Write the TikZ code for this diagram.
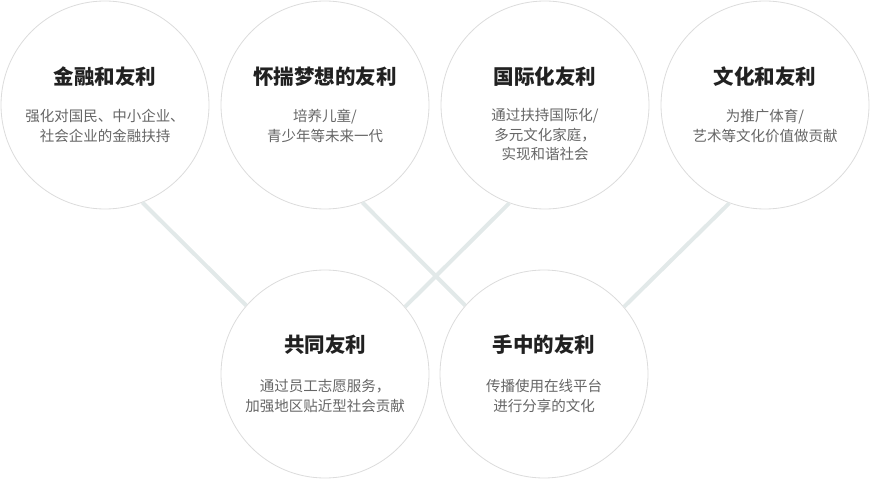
\documentclass[tikz,border=0pt]{standalone}
\usepackage{fontspec}
\setmainfont{Noto Sans CJK SC}
\definecolor{linkgray}{RGB}{226,233,233}
\definecolor{ringgray}{RGB}{220,220,220}

\begin{document}
\begin{tikzpicture}[x=1pt,y=1pt]
\tikzset{bubble/.style = {shape=circle,draw=ringgray,line width=0.8pt,fill=white,minimum size=208pt,inner sep=0pt}}
\tikzset{headline/.style = {font=\fontsize{20.5}{24}\selectfont\bfseries,text=black!87,inner sep=0pt}}
\tikzset{blurb/.style = {font=\fontsize{14.5}{19.5}\selectfont,text=black!60,align=center,inner sep=0pt}}
\tikzset{link/.style = {draw=linkgray,line width=4pt}}

\useasboundingbox (0,0) rectangle (870,480);

\node[bubble] (c1) at (105,375) {};
\node[bubble] (c2) at (325,375) {};
\node[bubble] (c3) at (545,375) {};
\node[bubble] (c4) at (765,375) {};
\node[bubble] (c5) at (325,106) {};
\node[bubble] (c6) at (544,106) {};

\draw[link] (c1.-69.5) to (c5.139.5);
\draw[link] (c2.-69.5) to (c6.139.5);
\draw[link] (c3.-110.5) to (c5.40);
\draw[link] (c4.-110.5) to (c6.40);

\node[headline] (t1) at (105,403) {金融和友利};
\node[headline] (t2) at (325,403) {怀揣梦想的友利};
\node[headline] (t3) at (545,403) {国际化友利};
\node[headline] (t4) at (765,403) {文化和友利};
\node[headline] (t5) at (325,135) {共同友利};
\node[headline] (t6) at (544,135) {手中的友利};

\node[blurb] (b1) at (105,354) {强化对国民、中小企业、\\社会企业的金融扶持};
\node[blurb] (b2) at (325,354) {培养儿童/\\青少年等未来一代};
\node[blurb] (b3) at (545,345) {通过扶持国际化/\\多元文化家庭，\\实现和谐社会};
\node[blurb] (b4) at (765,354) {为推广体育/\\艺术等文化价值做贡献};
\node[blurb] (b5) at (325,84) {通过员工志愿服务，\\加强地区贴近型社会贡献};
\node[blurb] (b6) at (544,84) {传播使用在线平台\\进行分享的文化};
\end{tikzpicture}
\end{document}
